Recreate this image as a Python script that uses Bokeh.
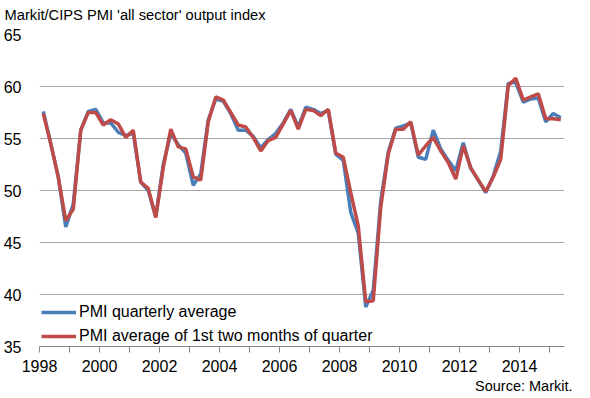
from bokeh.plotting import figure
from bokeh.models import Range1d, FixedTicker, Title, Legend, LegendItem, ColumnDataSource
from bokeh.embed import file_html
from bokeh.resources import INLINE

start_year = 1998
quarterly_avg = [57.6, 54.5, 51.3, 46.5, 48.7, 55.8, 57.6, 57.8,
                 56.5, 56.5, 55.6, 55.3, 55.5, 50.8, 50.0, 47.5,
                 52.5, 55.5, 54.4, 53.6, 50.5, 51.6, 56.8, 58.8,
                 58.6, 57.4, 55.8, 55.8, 55.2, 54.1, 54.9, 55.5,
                 56.5, 57.8, 56.1, 58.0, 57.8, 57.4, 57.7, 53.5,
                 52.9, 47.9, 45.9, 38.8, 40.4, 49.0, 53.7, 56.0,
                 56.2, 56.5, 53.2, 53.0, 55.8, 54.0, 52.9, 51.9,
                 54.6, 52.1, 51.0, 49.8, 51.4, 53.8, 60.3, 60.4,
                 58.5, 58.8, 58.9, 56.6, 57.4, 57.0]
first_two_months = [57.4, 54.5, 51.3, 47.1, 48.2, 55.8, 57.5, 57.5,
                    56.3, 56.8, 56.4, 55.1, 55.8, 50.8, 50.2, 47.4,
                    52.2, 55.9, 54.2, 54.0, 51.3, 51.0, 56.6, 59.0,
                    58.7, 57.5, 56.3, 56.1, 55.1, 53.8, 54.8, 55.1,
                    56.4, 57.7, 55.9, 57.8, 57.7, 57.2, 57.8, 53.6,
                    53.2, 49.8, 46.6, 39.3, 39.4, 48.4, 53.5, 55.9,
                    55.9, 56.6, 53.4, 54.3, 55.1, 53.8, 52.7, 51.1,
                    54.3, 52.2, 51.0, 49.9, 51.3, 53.0, 60.1, 60.8,
                    58.7, 59.0, 59.3, 56.9, 56.9, 56.8]
x_ticks = list(range(1998, 2016))
y_ticks = [35, 40, 45, 50, 55, 60, 65]

t = [start_year + (i + 0.5) / 4 for i in range(len(quarterly_avg))]
src = ColumnDataSource(dict(t=t, a=quarterly_avg, b=first_two_months))

FONT = "Liberation Sans"
p = figure(width=590, height=398, output_backend="svg", toolbar_location=None,
           x_range=Range1d(1998, 2015.5), y_range=Range1d(35, 65),
           min_border_left=37, min_border_right=26, min_border_top=34, min_border_bottom=52)
p.outline_line_color = None
p.xgrid.grid_line_color = None
p.ygrid.grid_line_color = "#a6a6a6"
p.ygrid.grid_line_width = 1

p.yaxis.ticker = FixedTicker(ticks=y_ticks)
p.yaxis.axis_line_color = None
p.yaxis.major_tick_line_color = None
p.yaxis.minor_tick_line_color = None
p.yaxis.major_label_standoff = 12
p.yaxis.major_label_text_font = FONT
p.yaxis.major_label_text_font_size = "16px"
p.yaxis.major_label_text_color = "black"

p.xaxis.ticker = FixedTicker(ticks=x_ticks)
p.xaxis.major_label_overrides = {y: (str(y) if y % 2 == 0 else "") for y in x_ticks}
p.xaxis.axis_line_color = "#868686"
p.xaxis.major_tick_line_color = "#868686"
p.xaxis.minor_tick_line_color = None
p.xaxis.major_tick_out = 6
p.xaxis.major_tick_in = 0
p.xaxis.major_label_standoff = 7
p.xaxis.major_label_text_font = FONT
p.xaxis.major_label_text_font_size = "16px"
p.xaxis.major_label_text_color = "black"

r1 = p.line("t", "a", source=src, line_color="#4a7ebb", line_width=3.5)
r2 = p.line("t", "b", source=src, line_color="#be4b48", line_width=3.5)

legend = Legend(items=[LegendItem(label="PMI quarterly average", renderers=[r1]),
                       LegendItem(label="PMI average of 1st two months of quarter", renderers=[r2])],
                location=(2, 0), orientation="vertical")
legend.background_fill_alpha = 0
legend.border_line_color = None
legend.padding = 0
legend.margin = 0
legend.spacing = 4
legend.glyph_width = 35
legend.glyph_height = 20
legend.label_height = 20
legend.label_standoff = 3
legend.label_text_font = FONT
legend.label_text_font_size = "16px"
legend.label_text_color = "black"
p.add_layout(legend, "center")

p.title.text = "Markit/CIPS PMI 'all sector' output index\n"
p.title.align = "left"
p.title.offset = -35
p.title.standoff = 0
p.title.text_line_height = 0.75
p.title.text_font = FONT
p.title.text_font_size = "14.7px"
p.title.text_font_style = "normal"
p.title.text_color = "black"

source_note = Title(text="Source: Markit.", align="right", offset=-8, standoff=3,
                    text_font=FONT, text_font_size="14.5px", text_font_style="normal",
                    text_color="black")
p.add_layout(source_note, "below")

open("out.html", "w").write(file_html(p, INLINE))
